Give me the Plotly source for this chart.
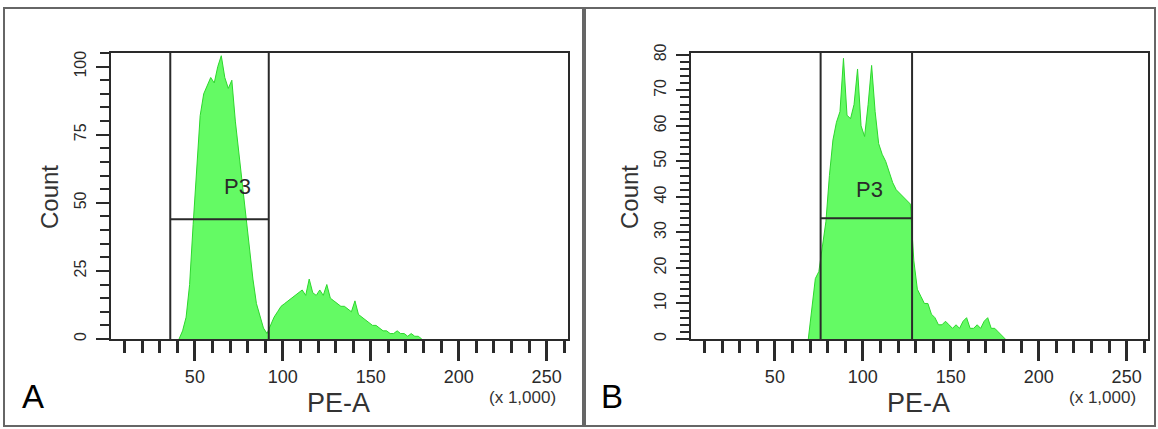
import plotly.graph_objects as go

W, H = 1158, 429

# ---------------- data (PE-A in x 1,000 ; Count) ----------------
pe_a_A = [41, 43, 45, 47, 49, 51, 53, 55, 57, 59, 61, 63, 65, 67, 69, 71, 73, 75, 77, 79,
          81, 83, 85, 87, 89, 91, 93, 95, 97, 99, 101, 103, 105, 107, 109, 111, 113, 115, 117, 119,
          121, 123, 125, 127, 129, 131, 133, 135, 137, 139, 141, 143, 145, 147, 149, 151, 153, 155, 157, 159,
          161, 163, 165, 167, 169, 171, 173, 175, 177, 179]
count_A = [0, 3, 8, 20, 42, 62, 82, 90, 93, 96, 94, 100, 104, 96, 92, 95, 80, 68, 57, 44,
           33, 22, 13, 8, 4, 2, 5, 8, 10, 12, 13, 14, 15, 16, 17, 18, 16, 22, 17, 16,
           18, 16, 20, 15, 14, 13, 12, 12, 11, 10, 14, 9, 8, 7, 6, 5, 5, 4, 3, 3,
           2, 2, 3, 2, 2, 1, 2, 1, 1, 0]

pe_a_B = [69, 71, 73, 75, 77, 79, 81, 83, 85, 87, 89, 91, 93, 95, 97, 99, 101, 103, 105, 107,
          109, 111, 113, 115, 117, 119, 121, 123, 125, 127, 129, 131, 133, 135, 137, 139, 141, 143, 145, 147,
          149, 151, 153, 155, 157, 159, 161, 163, 165, 167, 169, 171, 173, 175, 177, 179, 181]
count_B = [0, 8, 17, 19, 26, 33, 46, 56, 61, 64, 79, 63, 62, 66, 76, 60, 57, 66, 77, 64,
           55, 52, 50, 47, 44, 42, 41, 40, 39, 38, 22, 14, 12, 10, 10, 7, 6, 4, 4, 5,
           4, 3, 4, 3, 5, 6, 3, 3, 4, 3, 5, 6, 3, 3, 2, 1, 0]

# gates (P3): [left, right] in PE-A, horizontal bar height in Count
gate_A = [36, 92]
gate_A_y = 44
gate_B = [76, 128]
gate_B_y = 34
p3_A = (74, 56)
p3_B = (104, 42)

x_range = [2.3, 262.144]
yA_range = [0, 105]
yB_range = [0, 80.5]
x_ticks = [50, 100, 150, 200, 250]
yA_ticks = [0, 25, 50, 75, 100]
yB_ticks = [0, 10, 20, 30, 40, 50, 60, 70, 80]

# ---------------- figure ----------------
FILL = "rgb(100,250,100)"
EDGE = "rgb(45,215,45)"
INK = "#2a2a2a"
FONT = "Liberation Sans, Arial, sans-serif"

fig = go.Figure()
fig.add_trace(go.Scatter(x=pe_a_A, y=count_A, mode="lines", fill="tozeroy",
                         fillcolor=FILL, line=dict(color=EDGE, width=1),
                         xaxis="x", yaxis="y", hoverinfo="skip", showlegend=False))
fig.add_trace(go.Scatter(x=pe_a_B, y=count_B, mode="lines", fill="tozeroy",
                         fillcolor=FILL, line=dict(color=EDGE, width=1),
                         xaxis="x2", yaxis="y2", hoverinfo="skip", showlegend=False))

def px(xp):
    return xp / W

def py(yp):
    return 1 - yp / H

dom_y = [py(339), py(53)]
domA = [px(111), px(568)]
domB = [px(691), px(1148)]

def xaxis(dom, anchor):
    return dict(domain=dom, anchor=anchor, range=x_range, showgrid=False, zeroline=False,
                automargin=False,
                showline=True, mirror=True, linecolor=INK, linewidth=2,
                tickmode="array", tickvals=x_ticks, ticks="outside", ticklen=20,
                tickwidth=2.5, tickcolor=INK,
                tickfont=dict(family=FONT, size=18, color=INK),
                minor=dict(dtick=10, tick0=0, ticks="outside", ticklen=12,
                           tickwidth=2.5, tickcolor=INK))

def yaxis(rng, ticks, minor_dt, anchor):
    return dict(domain=dom_y, anchor=anchor, range=rng, showgrid=False, zeroline=False,
                automargin=False,
                showline=True, mirror=True, linecolor=INK, linewidth=2,
                tickmode="array", tickvals=ticks, ticks="outside", ticklen=13,
                tickwidth=2, tickcolor=INK, tickangle=-90, ticklabelstandoff=4,
                tickfont=dict(family=FONT, size=16, color=INK),
                minor=dict(dtick=minor_dt, tick0=0, ticks="outside", ticklen=9,
                           tickwidth=2, tickcolor=INK))

fig.update_layout(
    width=W, height=H, margin=dict(l=0, r=0, t=0, b=0, pad=0, autoexpand=False),
    paper_bgcolor="white", plot_bgcolor="white",
    xaxis=xaxis(domA, "y"), yaxis=yaxis(yA_range, yA_ticks, 5, "x"),
    xaxis2=xaxis(domB, "y2"), yaxis2=yaxis(yB_range, yB_ticks, 2, "x2"),
    font=dict(family=FONT, color=INK),
)

shapes = []
# panel frames
for x0, x1 in [(4, 583), (585, 1155)]:
    shapes.append(dict(type="rect", xref="paper", yref="paper",
                       x0=px(x0), x1=px(x1), y0=py(426), y1=py(8),
                       line=dict(color="#666", width=2), layer="below"))
# gates
for (xr, yr, g, gy) in [("x", "y", gate_A, gate_A_y), ("x2", "y2", gate_B, gate_B_y)]:
    for gx in g:
        shapes.append(dict(type="line", xref=xr, yref=yr + " domain", x0=gx, x1=gx, y0=0, y1=1,
                           line=dict(color=INK, width=2)))
    shapes.append(dict(type="line", xref=xr, yref=yr, x0=g[0], x1=g[1], y0=gy, y1=gy,
                       line=dict(color=INK, width=2)))
fig.update_layout(shapes=shapes)

ann = []
for (xr, yr, pos) in [("x", "y", p3_A), ("x2", "y2", p3_B)]:
    ann.append(dict(xref=xr, yref=yr, x=pos[0], y=pos[1], text="P3", showarrow=False,
                    xanchor="center", yanchor="middle",
                    font=dict(family=FONT, size=22, color=INK)))

def paper_text(x, y, text, size, color="#333", angle=0):
    return dict(xref="paper", yref="paper", x=px(x), y=py(y), text=text, showarrow=False,
                xanchor="center", yanchor="middle", textangle=angle,
                font=dict(family=FONT, size=size, color=color))

for cx, lab_x in [(338, 522), (918, 1102)]:
    ann.append(paper_text(cx, 403, "PE-A", 27))
    ann.append(paper_text(lab_x, 397, "(x 1,000)", 17))
for cx, letter in [(33, "A"), (612, "B")]:
    ann.append(paper_text(cx, 396, letter, 33, "black"))
for cx in [49, 629]:
    ann.append(paper_text(cx, 197, "Count", 24, angle=-90))
fig.update_layout(annotations=ann)

fig.write_html("out.html", config={"displayModeBar": False},
               post_script="document.body.style.margin='0';document.body.style.overflow='hidden';")
